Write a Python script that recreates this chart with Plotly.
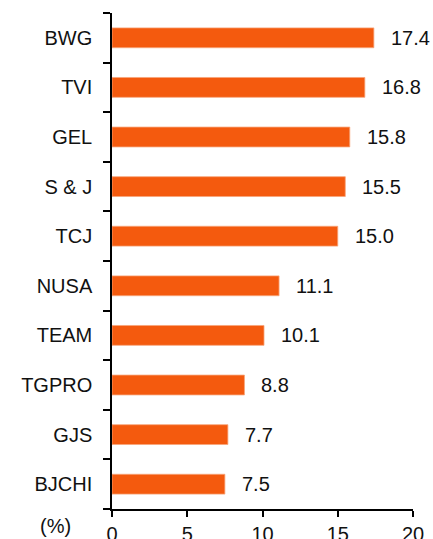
import plotly.graph_objects as go

categories = ["BWG", "TVI", "GEL", "S & J", "TCJ", "NUSA", "TEAM", "TGPRO", "GJS", "BJCHI"]
values = [17.4, 16.8, 15.8, 15.5, 15.0, 11.1, 10.1, 8.8, 7.7, 7.5]
xticks = [0, 5, 10, 15, 20]

cats_r = categories[::-1]
vals_r = values[::-1]

fig = go.Figure(go.Bar(
    x=vals_r, y=cats_r, orientation="h",
    marker=dict(color="#F45A0E", line=dict(color="#F8A47A", width=0.8)),
    width=0.4, cliponaxis=False, hoverinfo="skip",
))

for c, v in zip(cats_r, vals_r):
    fig.add_annotation(x=v, y=c, text=f"{v:.1f}", showarrow=False,
                       xanchor="left", xshift=15, font=dict(size=20, color="#111"))

fig.add_annotation(x=-0.188, y=0, xref="paper", yref="paper", yanchor="top", yshift=-4,
                   xanchor="center", text="(%)", showarrow=False,
                   font=dict(size=20, color="#111"))

fig.update_layout(
    width=433, height=539,
    margin=dict(l=112, r=20, t=13, b=30, autoexpand=False),
    plot_bgcolor="white", paper_bgcolor="white",
    font=dict(family="Liberation Sans, Arial, sans-serif", size=20, color="#111"),
    showlegend=False,
    xaxis=dict(range=[0, 20], tickvals=xticks, showgrid=False, zeroline=False,
               showline=True, linecolor="black", linewidth=1.5, automargin=False,
               ticks="outside", ticklen=6, tickcolor="black", tickwidth=1.5),
    yaxis=dict(range=[-0.5, 9.5], showgrid=False, zeroline=False, automargin=False,
               showline=True, linecolor="black", linewidth=1.5,
               ticks="outside", tickson="boundaries", ticklen=7,
               tickcolor="black", tickwidth=1.5, ticklabelstandoff=14),
)

fig.write_html("out.html", config={"displayModeBar": False},
               post_script="document.body.style.margin='0';document.body.style.overflow='hidden';")
